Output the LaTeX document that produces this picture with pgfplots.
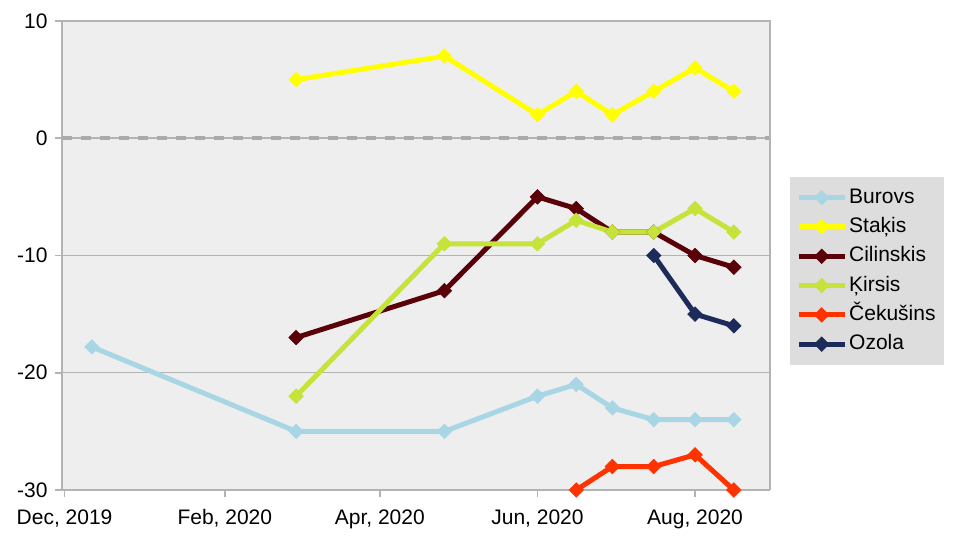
\documentclass[border=0pt]{standalone}
\usepackage{pgfplots}
\pgfplotsset{compat=1.18}
\usepackage{fontspec}
\setmainfont{Liberation Sans}
\definecolor{plotbg}{HTML}{EEEEEE}
\definecolor{legbg}{HTML}{DDDDDD}
\definecolor{gridc}{HTML}{B3B3B3}
\definecolor{dashc}{HTML}{AAAAAA}
\definecolor{cBur}{HTML}{A9D6E5}
\definecolor{cSta}{HTML}{FFFF00}
\definecolor{cCil}{HTML}{5A0008}
\definecolor{cKir}{HTML}{C5E33A}
\definecolor{cCek}{HTML}{FF3300}
\definecolor{cOzo}{HTML}{1C2B5A}
\begin{document}
\begin{tikzpicture}[x=1pt,y=1pt]
\useasboundingbox (-62,-50) rectangle (898,490);
\begin{axis}[
  at={(0,0)}, anchor=south west,
  scale only axis, width=708pt, height=469pt,
  xmin=-1, xmax=273, ymin=-30, ymax=10,
  axis background/.style={fill=plotbg},
  axis line style={gridc, line width=1.8pt},
  axis x line*=bottom, axis y line*=left,
  ytick={-30,-20,-10,0,10},
  xtick={0,62,122,183,244},
  xticklabels={{Dec, 2019},{Feb, 2020},{Apr, 2020},{Jun, 2020},{Aug, 2020}},
  ymajorgrids, major grid style={gridc, line width=1.5pt},
  tick style={gridc, line width=1.8pt},
  major tick length=7pt,
  tick align=outside,
  xtick pos=bottom, ytick pos=left,
  ticklabel style={font=\fontsize{21}{24}\selectfont, text=black},
  /pgf/number format/assume math mode=true,
  yticklabel style={xshift=-4pt},
  xticklabel style={text height=15pt, text depth=4pt, yshift=-9pt},
  legend style={at={(1.0282,0.6674)}, anchor=north west, fill=legbg, draw=none,
    font=\fontsize{21}{24}\selectfont, row sep=6.3pt, inner xsep=6pt, inner ysep=9pt,
    nodes={text height=15pt, text depth=4pt}},
  legend cell align=left,
  legend image code/.code={
    \draw[#1, mark=none, line width=5pt] (0pt,0pt) -- (46pt,0pt);
    \draw[#1, only marks] plot coordinates {(23pt,0pt)};
  },
  every axis plot/.append style={line width=5pt, mark=square*, mark size=5.2pt},
  clip=false,
]
\draw[dashc, line width=4pt, dash pattern=on 10pt off 9pt] (axis cs:-1,0) -- (axis cs:273,0);
\draw[gridc, line width=1.5pt] (rel axis cs:1,0) -- (rel axis cs:1,1) -- (rel axis cs:0,1);
\addplot[cBur, mark options={solid, line width=0.5pt, rotate=45, fill=cBur, draw=cBur}] coordinates {
(10.6,-17.8) (89.6,-25) (147,-25) (183,-22) (198,-21) (212,-23) (228,-24) (244,-24) (259,-24)};
\addlegendentry{Burovs}
\addplot[cSta, mark options={solid, line width=0.5pt, rotate=45, fill=cSta, draw=cSta}] coordinates {
(89.6,5) (147,7) (183,2) (198,4) (212,2) (228,4) (244,6) (259,4)};
\addlegendentry{Staķis}
\addplot[cCil, mark options={solid, line width=0.5pt, rotate=45, fill=cCil, draw=cCil}] coordinates {
(89.6,-17) (147,-13) (183,-5) (198,-6) (212,-8) (228,-8) (244,-10) (259,-11)};
\addlegendentry{Cilinskis}
\addplot[cKir, mark options={solid, line width=0.5pt, rotate=45, fill=cKir, draw=cKir}] coordinates {
(89.6,-22) (147,-9) (183,-9) (198,-7) (212,-8) (228,-8) (244,-6) (259,-8)};
\addlegendentry{Ķirsis}
\addplot[cCek, mark options={solid, line width=0.5pt, rotate=45, fill=cCek, draw=cCek}] coordinates {
(198,-30) (212,-28) (228,-28) (244,-27) (259,-30)};
\addlegendentry{Čekušins}
\addplot[cOzo, mark options={solid, line width=0.5pt, rotate=45, fill=cOzo, draw=cOzo}] coordinates {
(228,-10) (244,-15) (259,-16)};
\addlegendentry{Ozola}
\end{axis}
\end{tikzpicture}
\end{document}
